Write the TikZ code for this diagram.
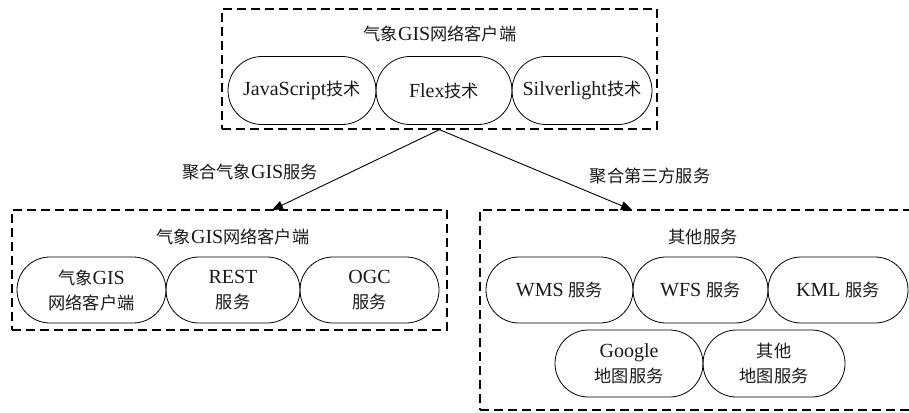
\documentclass[tikz,border=0pt]{standalone}
\usepackage{fontspec}
\setmainfont{Liberation Serif}
\newfontfamily\cjkfont[Scale=0.86]{Noto Sans CJK SC}
\newcommand\zh[1]{{\cjkfont #1}}
\usetikzlibrary{shapes.misc,arrows.meta}
\begin{document}
\begin{tikzpicture}[x=1pt,y=-1pt,
  every node/.style={font=\fontsize{20}{25}\selectfont, text=black!90},
  grp/.style={draw, dash pattern=on 9pt off 5pt, line width=1.3pt, inner sep=0pt, minimum width=435pt},
  pill/.style={draw, rounded rectangle, line width=0.8pt, inner sep=0pt, minimum height=68pt, align=center},
  arr/.style={line width=0.9pt, -{Triangle[length=11pt,width=9pt]}},
  lbl/.style={inner sep=0pt}]
\useasboundingbox (0,0) rectangle (909,412);
% top group
\node[grp, minimum height=120pt] (top) at (439.5,69) {};
\node[lbl] (toptitle) at (440,34) {\zh{气象}GIS\zh{网络客户端}};
\node[pill, minimum width=148pt] (js) at (302,90.5) {JavaScript\zh{技术}};
\node[pill, minimum width=136pt] (flex) at (444,90.5) {Flex\zh{技术}};
\node[pill, minimum width=140pt] (sl) at (582,90.5) {Silverlight\zh{技术}};
% left group
\node[grp, minimum height=120pt] (left) at (229.5,270) {};
\node[lbl] (lefttitle) at (233,237) {\zh{气象}GIS\zh{网络客户端}};
\node[pill, minimum width=149pt, minimum height=66pt] (gis) at (91.5,290) {\zh{气象}GIS\\\zh{网络客户端}};
\node[pill, minimum width=134pt, minimum height=66pt] (rest) at (233,290) {REST\\\zh{服务}};
\node[pill, minimum width=139pt, minimum height=66pt] (ogc) at (369.5,290) {OGC\\\zh{服务}};
% right group (runs off the right edge of the picture)
\node[grp, minimum width=480pt, minimum height=200pt] (right) at (720,310) {};
\node[lbl] (righttitle) at (703,237) {\zh{其他服务}};
\node[pill, minimum width=147pt, minimum height=66pt] (wms) at (559.5,290) {WMS \zh{服务}};
\node[pill, minimum width=135pt, minimum height=66pt] (wfs) at (700.5,290) {WFS \zh{服务}};
\node[pill, minimum width=140pt, minimum height=66pt] (kml) at (838,290) {KML \zh{服务}};
\node[pill, minimum width=148pt, minimum height=67pt] (google) at (629,363.5) {Google\\\zh{地图服务}};
\node[pill, minimum width=142pt, minimum height=67pt] (other) at (774,363.5) {\zh{其他}\\\zh{地图服务}};
% connectors
\coordinate (ltip) at (272,210);
\coordinate (rtip) at (632,210);
\draw[arr] (top.south) -- (ltip);
\draw[arr] (top.south) -- (rtip);
\node[lbl] (l1) at (250,172) {\zh{聚合气象}GIS\zh{服务}};
\node[lbl] (l2) at (650,176) {\zh{聚合第三方服务}};
\end{tikzpicture}
\end{document}
